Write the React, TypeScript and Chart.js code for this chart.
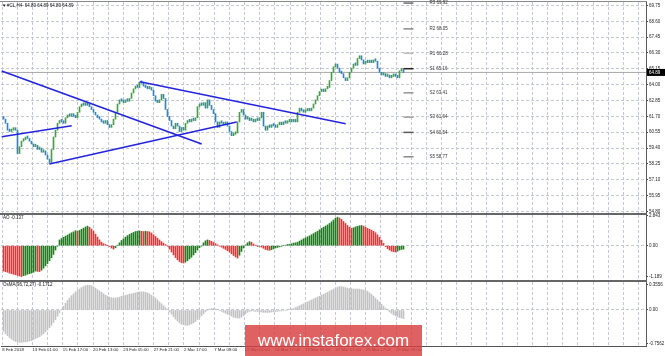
import React, { useEffect, useRef } from "react";
import { Chart, registerables } from "chart.js";

Chart.register(...registerables);

// ---------------- data ----------------
const symbolTitle = "#CL,H4  64.89 64.89 64.89 64.89";
const lastPrice = 64.89;
const firstOpen = 61.7;

const closes = [
  61.5, 61.2, 60.7, 60.6, 60.7, 60.8, 60.7, 59.0, 59.5, 59.9,
  60.0, 60.2, 60.1, 59.9, 59.7, 59.5, 59.6, 59.3, 59.4, 59.1,
  59.2, 58.9, 58.6, 58.35, 59.3, 60.2, 60.7, 61.2, 61.4, 61.3,
  61.2, 61.6, 61.8, 61.7, 61.9, 61.7, 61.6, 62.0, 62.4, 62.6,
  62.5, 62.7, 62.5, 62.4, 62.2, 62.0, 61.8, 61.6, 61.5, 61.3,
  61.2, 61.4, 61.1, 60.9, 61.1, 61.5, 62.0, 62.6, 62.9, 62.8,
  62.7, 62.9, 62.8, 63.0, 63.4, 63.7, 63.9, 63.8, 64.2, 64.1,
  63.9, 63.8, 63.7, 63.8, 63.6, 63.2, 62.8, 62.7, 62.9, 63.3,
  63.0, 62.2, 61.7, 61.4, 61.0, 60.8, 61.2, 61.0, 60.6, 60.9,
  60.7, 61.2, 61.4, 61.3, 61.5, 61.4, 61.6, 62.4, 62.6, 62.5,
  62.7, 62.3, 62.9, 62.5, 62.2, 61.9, 61.3, 60.9, 61.3, 61.2,
  61.1, 61.3, 61.0, 60.6, 60.3, 60.4, 60.5, 61.3, 62.0, 62.2,
  61.8, 61.5, 61.6, 61.4, 61.5, 61.3, 61.5, 61.4, 61.6, 62.0,
  61.0, 60.7, 61.0, 60.9, 61.1, 61.0, 60.9, 61.1, 61.2, 61.1,
  61.3, 61.2, 61.3, 61.4, 61.3, 61.4, 61.3, 62.0, 62.3, 62.1,
  62.0, 62.1, 62.2, 62.1, 62.3, 62.6, 62.9, 63.2, 63.5, 63.6,
  63.5, 63.7, 63.8, 64.3, 64.9, 65.3, 65.5, 65.2, 64.9, 64.8,
  64.5, 64.3, 64.5, 64.9, 65.2, 65.5, 65.4, 65.9, 66.1, 65.8,
  65.5, 65.7, 65.6, 65.7, 65.6, 65.8, 65.7, 65.2, 64.9, 64.7,
  64.8, 64.6, 64.7, 64.5, 64.6, 64.7, 64.6, 64.5, 65.0, 65.1,
  64.89,
];

const aoValues = [
  -0.88, -0.90, -0.92, -0.95, -0.97, -0.99, -1.01, -1.03, -1.05, -1.07,
  -1.04, -1.02, -0.99, -0.97, -0.95, -0.92, -0.88, -0.89, -0.90, -0.85,
  -0.78, -0.70, -0.62, -0.52, -0.42, -0.30, -0.15, -0.02, 0.20, 0.25,
  0.29, 0.33, 0.37, 0.41, 0.45, 0.48, 0.52, 0.50, 0.53, 0.57,
  0.61, 0.65, 0.68, 0.64, 0.58, 0.50, 0.40, 0.30, 0.20, 0.12,
  0.07, 0.04, 0.01, -0.03, -0.08, -0.12, -0.07, 0.02, 0.10, 0.18,
  0.24, 0.30, 0.35, 0.39, 0.43, 0.46, 0.49, 0.50, 0.51, 0.50,
  0.49, 0.50, 0.49, 0.48, 0.44, 0.38, 0.32, 0.26, 0.20, 0.14,
  0.09, 0.04, -0.02, -0.12, -0.22, -0.32, -0.41, -0.49, -0.55, -0.59,
  -0.60, -0.57, -0.52, -0.46, -0.40, -0.32, -0.24, -0.15, -0.07, -0.01,
  0.10, 0.17, 0.20, 0.18, 0.15, 0.11, 0.07, 0.03, -0.01, -0.05,
  -0.09, -0.13, -0.17, -0.22, -0.28, -0.34, -0.39, -0.43, -0.33, -0.20,
  -0.08, 0.03, 0.10, 0.14, 0.12, 0.06, 0.01, -0.03, -0.02, -0.05,
  -0.09, -0.13, -0.15, -0.16, -0.14, -0.11, -0.08, -0.06, -0.04, -0.02,
  0.00, 0.02, 0.04, 0.05, 0.07, 0.09, 0.10, 0.12, 0.16, 0.20,
  0.24, 0.27, 0.31, 0.34, 0.38, 0.42, 0.46, 0.50, 0.55, 0.60,
  0.64, 0.68, 0.72, 0.77, 0.83, 0.89, 0.95, 0.99, 0.96, 0.91,
  0.84, 0.77, 0.70, 0.64, 0.60, 0.62, 0.65, 0.67, 0.69, 0.70,
  0.68, 0.64, 0.60, 0.57, 0.54, 0.50, 0.45, 0.38, 0.29, 0.19,
  0.08, -0.03, -0.10, -0.15, -0.19, -0.21, -0.22, -0.19, -0.15, -0.13,
  -0.12,
];

const osmaValues = [
  -0.45, -0.50, -0.54, -0.58, -0.61, -0.64, -0.66, -0.67, -0.68, -0.68,
  -0.67, -0.67, -0.66, -0.65, -0.64, -0.62, -0.60, -0.58, -0.56, -0.53,
  -0.50, -0.46, -0.42, -0.37, -0.32, -0.26, -0.20, -0.13, -0.06, 0.01,
  0.08, 0.14, 0.20, 0.25, 0.30, 0.34, 0.38, 0.41, 0.44, 0.47,
  0.49, 0.51, 0.52, 0.52, 0.51, 0.49, 0.46, 0.43, 0.40, 0.37,
  0.34, 0.31, 0.29, 0.27, 0.26, 0.25, 0.25, 0.26, 0.27, 0.29,
  0.30, 0.31, 0.32, 0.33, 0.34, 0.35, 0.36, 0.37, 0.38, 0.38,
  0.38, 0.37, 0.36, 0.34, 0.31, 0.28, 0.25, 0.21, 0.17, 0.13,
  0.09, 0.05, 0.01, -0.04, -0.09, -0.14, -0.19, -0.23, -0.27, -0.30,
  -0.31, -0.32, -0.32, -0.31, -0.29, -0.27, -0.24, -0.20, -0.16, -0.12,
  -0.08, -0.04, -0.01, 0.02, 0.03, 0.03, 0.02, 0.01, -0.01, -0.03,
  -0.05, -0.07, -0.09, -0.11, -0.13, -0.15, -0.16, -0.17, -0.17, -0.15,
  -0.12, -0.08, -0.05, -0.03, -0.02, -0.02, -0.03, -0.03, -0.04, -0.04,
  -0.05, -0.05, -0.05, -0.05, -0.04, -0.04, -0.03, -0.03, -0.02, -0.02,
  -0.01, -0.01, 0.00, 0.01, 0.02, 0.03, 0.05, 0.07, 0.09, 0.11,
  0.13, 0.15, 0.17, 0.19, 0.21, 0.23, 0.25, 0.27, 0.29, 0.31,
  0.33, 0.35, 0.37, 0.39, 0.42, 0.44, 0.46, 0.48, 0.49, 0.49,
  0.48, 0.47, 0.46, 0.45, 0.45, 0.44, 0.44, 0.44, 0.44, 0.43,
  0.42, 0.41, 0.39, 0.36, 0.33, 0.29, 0.25, 0.21, 0.17, 0.12,
  0.08, 0.04, 0.00, -0.04, -0.07, -0.10, -0.12, -0.14, -0.16, -0.17,
  -0.18,
];

const yTickValues = [54.8, 55.95, 57.1, 58.25, 59.4, 60.55, 61.7, 62.85, 64.0, 65.15, 66.3, 67.45, 68.6, 69.75];
const yTickLabels = ["54.80", "55.95", "57.10", "58.25", "59.40", "60.55", "61.70", "62.85", "64.00", "65.15", "66.30", "67.45", "68.60", "69.75"];

const xTickLabels = [
  "8 Feb 2018", "13 Feb 01:00", "15 Feb 17:00", "20 Feb 13:00", "23 Feb 05:00",
  "27 Feb 21:00", "2 Mar 17:00", "7 Mar 09:00", "12 Mar 01:00", "14 Mar 17:00",
  "19 Mar 09:00", "22 Mar 01:00", "26 Mar 17:00", "29 Mar 09:00",
];

const pivotNames = ["R3", "R2", "R1", "S1", "S2", "S3", "S4", "S5"];
const pivotValues = [69.92, 68.05, 66.28, 65.16, 63.41, 61.64, 60.54, 58.77];
const pivotFrom = 200;
const pivotTo = 205;

// trend lines: [bar index, price] at start and end
const trendStart = [[-0.9, 64.99], [68.25, 64.21], [-0.9, 60.22], [22.9, 58.24]];
const trendEnd = [[99.1, 59.7], [171.1, 61.17], [34.1, 61.02], [116.6, 61.29]];

const aoTitle = "AO -0.137";
const aoTickValues = [1.03, 0, -1.085];
const aoTickLabels = ["2.843", "0.00", "-1.189"];

const osmaTitle = "OsMA(36,72,27) -0.1712";
const osmaTickValues = [0.525, 0, -0.714];
const osmaTickLabels = ["0.3556", "0.00", "-0.7562"];

// ---------------- styles ----------------
const FONT = "'Liberation Sans', Arial, sans-serif";
const GRID = "#c3c8d4";
const UP = "#38a838";
const DOWN = "#2487d4";
const AO_UP = "#0b8a0b";
const AO_DOWN = "#ff2a2a";
const OSMA = "#c2c2c2";
const TREND = "#2424e0";
const PIVOT_COLORS = ["#707070", "#8a8a8a", "#bdbdbd", "#222222", "#949494", "#a0a0a0", "#5a5a5a", "#8a8a8a"];
const X_MIN = -1.25;
const X_MAX = 321.25;
const GRID_START = -0.675;
const GRID_STEP = 7.575;
const GRID_COUNT = 43;

const barIdx = closes.map((_, i) => i);
const opens = closes.map((c, i) => (i === 0 ? firstOpen : closes[i - 1]));

function zeroPad(s: any) {
  s.paddingTop = 0;
  s.paddingBottom = 0;
  s.paddingLeft = 0;
  s.paddingRight = 0;
}

function makeX(showLabels: boolean, height: number): any {
  return {
    type: "linear",
    min: X_MIN,
    max: X_MAX,
    offset: false,
    afterBuildTicks: (s: any) => {
      const t: any[] = [];
      for (let k = 0; k < GRID_COUNT; k++) t.push({ value: GRID_START + GRID_STEP * k });
      s.ticks = t;
    },
    afterFit: (s: any) => {
      s.height = height;
      zeroPad(s);
    },
    grid: { color: GRID, lineWidth: 1, drawTicks: false, offset: false },
    border: { display: showLabels, color: "#555", width: 1, dash: [3, 2] },
    ticks: {
      display: showLabels,
      autoSkip: false,
      maxRotation: 0,
      minRotation: 0,
      align: "start",
      padding: 1,
      color: "#222",
      font: { family: FONT, size: 4.3 },
      callback: (_v: any, i: number) =>
        i % 2 === 0 && i / 2 < xTickLabels.length ? xTickLabels[i / 2] : "",
    },
  };
}

function makeY(min: number, max: number, values: number[], labels: string[], zeroOnly: boolean): any {
  return {
    type: "linear",
    position: "right",
    min,
    max,
    afterBuildTicks: (s: any) => {
      s.ticks = values.map((v) => ({ value: v }));
    },
    afterFit: (s: any) => {
      s.width = 19;
      zeroPad(s);
    },
    grid: {
      color: (c: any) => (!zeroOnly || (c.tick && c.tick.value === 0) ? GRID : "rgba(0,0,0,0)"),
      tickColor: "#444",
      tickLength: 2,
      tickBorderDash: [],
      lineWidth: 1,
    },
    border: { display: true, color: "#5a5a5a", width: 1, dash: [3, 2] },
    ticks: {
      padding: 1,
      color: "#222",
      font: { family: FONT, size: 4.5 },
      callback: (_v: any, i: number) => labels[i],
    },
  };
}

const baseOptions = (padding: any) => ({
  animation: false,
  responsive: false,
  events: [],
  layout: { padding },
  plugins: { legend: { display: false }, tooltip: { enabled: false } },
});

const mainDecor = {
  id: "mainDecor",
  afterDatasetsDraw(chart: any) {
    const { ctx, chartArea, scales } = chart;
    const x = scales.x;
    const y = scales.y;
    ctx.save();
    ctx.strokeStyle = "#8a8a8a";
    ctx.lineWidth = 1;
    ctx.beginPath();
    ctx.moveTo(0, 1.5);
    ctx.lineTo(chartArea.right + 1, 1.5);
    ctx.stroke();
    ctx.font = `4.5px ${FONT}`;
    ctx.textBaseline = "middle";
    ctx.textAlign = "left";
    ctx.fillStyle = "#111";
    ctx.fillText("\u25BC", 2, 5.5);
    ctx.fillText(symbolTitle, 7, 5.5);
    ctx.fillStyle = "#333";
    const lx = x.getPixelForValue(pivotTo) + 16;
    pivotNames.forEach((n, k) => {
      ctx.fillText(`${n} ${pivotValues[k].toFixed(2)}`, lx, y.getPixelForValue(pivotValues[k]));
    });
    const py = y.getPixelForValue(lastPrice);
    ctx.fillStyle = "#000";
    ctx.fillRect(chartArea.right + 1, py - 3.5, 18, 7);
    ctx.fillStyle = "#fff";
    ctx.fillText(lastPrice.toFixed(2), chartArea.right + 3, py);
    ctx.restore();
  },
};

function panelDecor(title: string): any {
  return {
    id: "panelDecor",
    afterDatasetsDraw(chart: any) {
      const { ctx, chartArea } = chart;
      ctx.save();
      ctx.fillStyle = "#666";
      ctx.fillRect(0, 0, chartArea.right + 1, 2);
      ctx.font = `4.5px ${FONT}`;
      ctx.fillStyle = "#111";
      ctx.textBaseline = "middle";
      ctx.textAlign = "left";
      ctx.fillText(title, 3, chartArea.top + 3);
      ctx.restore();
    },
  };
}

export default function App() {
  const mainRef = useRef<HTMLCanvasElement | null>(null);
  const aoRef = useRef<HTMLCanvasElement | null>(null);
  const osRef = useRef<HTMLCanvasElement | null>(null);

  useEffect(() => {
    const candleData = barIdx.map((i) => ({ x: i, y: [opens[i], closes[i]] }));
    const candleColors = barIdx.map((i) => (closes[i] >= opens[i] ? UP : DOWN));

    const trendSets = trendStart.map((s, k) => ({
      type: "line",
      data: [
        { x: s[0], y: s[1] },
        { x: trendEnd[k][0], y: trendEnd[k][1] },
      ],
      borderColor: TREND,
      borderWidth: 1.6,
      pointRadius: 0,
      order: 0,
    }));
    const pivotSets = pivotValues.map((v, k) => ({
      type: "line",
      data: [
        { x: pivotFrom, y: v },
        { x: pivotTo, y: v },
      ],
      borderColor: PIVOT_COLORS[k],
      borderWidth: 1.5,
      pointRadius: 0,
      order: 0,
    }));

    const main = new Chart(mainRef.current as HTMLCanvasElement, {
      type: "bar",
      data: {
        datasets: [
          ...trendSets,
          ...pivotSets,
          {
            type: "bar",
            data: candleData,
            backgroundColor: candleColors,
            barThickness: 1,
            minBarLength: 2.5,
            borderWidth: 0,
            order: 1,
          },
          {
            type: "line",
            data: [
              { x: X_MIN, y: lastPrice },
              { x: X_MAX, y: lastPrice },
            ],
            borderColor: "#a8a8a8",
            borderWidth: 1,
            pointRadius: 0,
            order: 2,
          },
        ] as any,
      },
      options: {
        ...baseOptions({ top: 2, left: 1, right: 0, bottom: 0 }),
        scales: {
          x: makeX(false, 0),
          y: makeY(54.69, 70.0, yTickValues, yTickLabels, false),
        },
      } as any,
      plugins: [mainDecor],
    });

    const aoColors = aoValues.map((v, i) => (i > 0 && v > aoValues[i - 1] ? AO_UP : AO_DOWN));
    const ao = new Chart(aoRef.current as HTMLCanvasElement, {
      type: "bar",
      data: {
        datasets: [
          {
            data: aoValues.map((v, i) => ({ x: i, y: v })),
            backgroundColor: aoColors,
            barThickness: 1,
            borderWidth: 0,
          },
        ] as any,
      },
      options: {
        ...baseOptions({ top: 2, left: 1, right: 0, bottom: 1 }),
        scales: {
          x: makeX(false, 0),
          y: makeY(-1.189, 1.064, aoTickValues, aoTickLabels, true),
        },
      } as any,
      plugins: [panelDecor(aoTitle)],
    });

    const os = new Chart(osRef.current as HTMLCanvasElement, {
      type: "bar",
      data: {
        datasets: [
          {
            data: osmaValues.map((v, i) => ({ x: i, y: v })),
            backgroundColor: OSMA,
            barThickness: 1,
            borderWidth: 0,
          },
        ] as any,
      },
      options: {
        ...baseOptions({ top: 2, left: 1, right: 0, bottom: 0 }),
        scales: {
          x: makeX(true, 10),
          y: makeY(-0.7562, 0.588, osmaTickValues, osmaTickLabels, true),
        },
      } as any,
      plugins: [panelDecor(osmaTitle)],
    });

    return () => {
      main.destroy();
      ao.destroy();
      os.destroy();
    };
  }, []);

  return (
    <div
      style={{
        position: "fixed",
        left: 0,
        top: 0,
        width: 665,
        height: 356,
        background: "#fff",
        overflow: "hidden",
      }}
    >
      <canvas ref={mainRef} width={665} height={213} style={{ position: "absolute", left: 0, top: 0 }} />
      <canvas ref={aoRef} width={665} height={68} style={{ position: "absolute", left: 0, top: 213 }} />
      <canvas ref={osRef} width={665} height={76} style={{ position: "absolute", left: 0, top: 280 }} />
      <div
        style={{
          position: "absolute",
          left: 245,
          top: 325,
          width: 177,
          height: 31,
          background: "rgba(216,62,62,0.82)",
          color: "#fff",
          font: `17px ${FONT}`,
          display: "flex",
          alignItems: "center",
          justifyContent: "center",
        }}
      >
        www.instaforex.com
      </div>
    </div>
  );
}
